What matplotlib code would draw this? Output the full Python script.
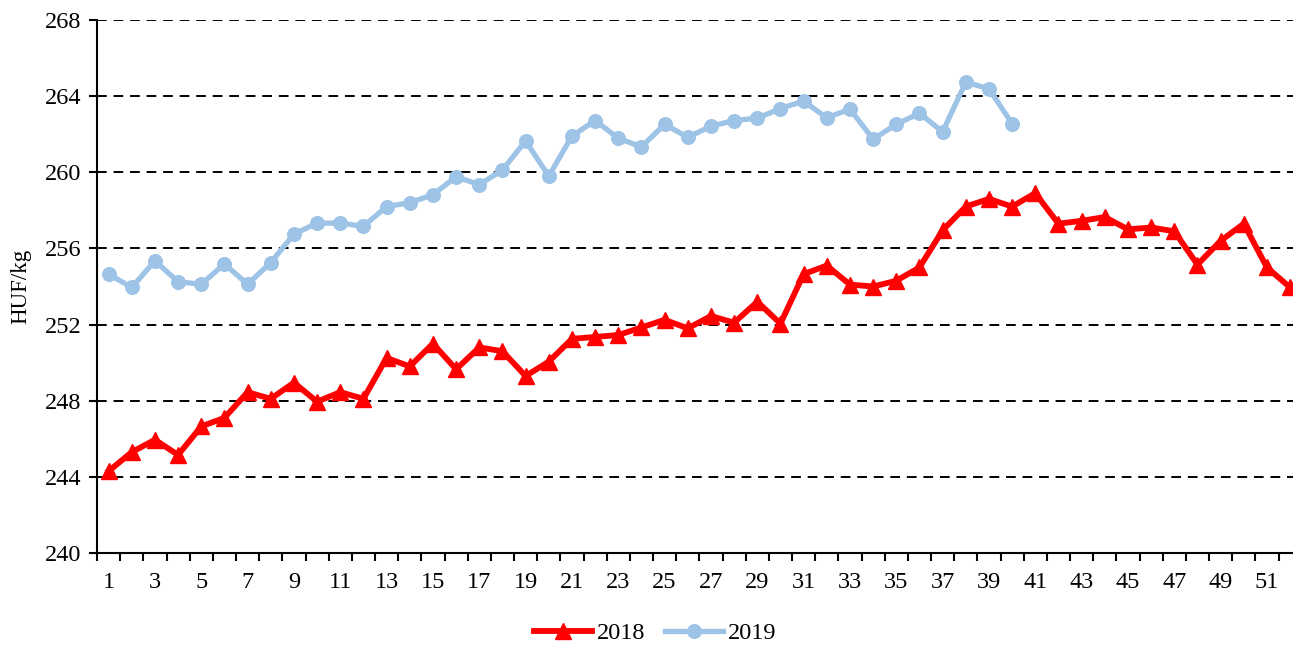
import matplotlib
matplotlib.use("Agg")
import matplotlib.pyplot as plt
import numpy as np

weeks = list(range(1, 53))
y2018 = [244.3, 245.3, 245.95, 245.15, 246.65, 247.1, 248.45, 248.1, 248.95, 247.95,
         248.45, 248.1, 250.25, 249.8, 251.0, 249.65, 250.8, 250.6, 249.3, 250.05,
         251.25, 251.35, 251.45, 251.85, 252.25, 251.8, 252.45, 252.1, 253.2, 252.05,
         254.65, 255.1, 254.1, 254.0, 254.3, 255.0, 256.95, 258.2, 258.6, 258.2,
         258.9, 257.3, 257.45, 257.65, 257.0, 257.1, 256.9, 255.15, 256.4, 257.3,
         255.0, 253.95]
y2019 = [254.65, 253.95, 255.35, 254.25, 254.12, 255.18, 254.12, 255.26, 256.75, 257.33,
         257.33, 257.16, 258.2, 258.4, 258.82, 259.77, 259.35, 260.12, 261.65, 259.8,
         261.9, 262.72, 261.79, 261.33, 262.52, 261.84, 262.42, 262.72, 262.84, 263.35,
         263.74, 262.86, 263.32, 261.74, 262.52, 263.1, 262.13, 264.73, 264.39, 262.55]
yticks = list(range(240, 269, 4))
xtick_labels = list(range(1, 53, 2))

plt.rcParams['font.family'] = ['Liberation Serif', 'DejaVu Serif']

fig = plt.figure(figsize=(12.93, 6.46), dpi=100)
ax = fig.add_axes([97/1293, 93/646, (1301.7-97)/1293, 533/646])

ax.plot(weeks, y2018, color='#FF0000', lw=4.2, marker='^', ms=11.5,
        mec='#FF0000', mfc='#FF0000', label='2018', zorder=3, clip_on=False)
ax.plot(weeks[:len(y2019)], y2019, color='#9DC3E6', lw=3.8, marker='o', ms=9.8,
        mec='#9DC3E6', mfc='#9DC3E6', label='2019', zorder=3)

ax.set_xlim(0.5, 52.5)
ax.set_ylim(240, 268)
ax.set_yticks(yticks)
ax.set_xticks(xtick_labels)
ax.set_xticklabels([str(v) for v in xtick_labels])
ax.set_xticks(np.arange(0.5, 53, 1), minor=True)

for y in yticks[1:]:
    ax.axhline(y, color='black', lw=1.4, ls=(0, (5, 3.5)), zorder=1)

ax.spines['top'].set_visible(False)
ax.spines['right'].set_visible(False)
ax.spines['left'].set_linewidth(1.5)
ax.spines['bottom'].set_linewidth(1.5)

ax.tick_params(axis='y', direction='out', length=6, width=1.5, labelsize=17.5, pad=5)
ax.tick_params(axis='x', which='major', length=0, labelsize=17.5, pad=14)
ax.tick_params(axis='x', which='minor', direction='out', length=6, width=1.5)

ax.set_ylabel('HUF/kg', fontsize=16.5, labelpad=10)

leg = fig.legend(loc='center', bbox_to_anchor=(655/1293, 1 - 633/646), ncol=2,
                 frameon=False, fontsize=17.5, handlelength=2.4, handletextpad=0.2,
                 columnspacing=0.8)

fig.savefig('out.png', dpi=100)
